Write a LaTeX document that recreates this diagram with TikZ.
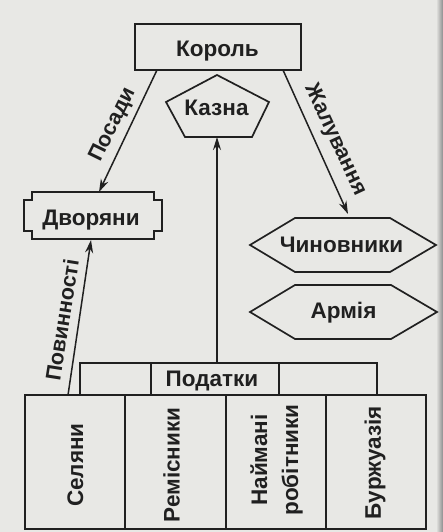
\documentclass[tikz,border=0pt]{standalone}
\usepackage{fontspec}
\setmainfont{Liberation Sans}
\usetikzlibrary{arrows.meta}
\definecolor{paper}{RGB}{232,232,229}
\definecolor{ink}{RGB}{32,32,32}
\begin{document}
\begin{tikzpicture}[x=1pt,y=-1pt,
  shapeline/.style={draw=ink, fill=paper, line width=1.7pt},
  rowline/.style={draw=ink, line width=1.7pt},
  txt/.style={font=\fontsize{22.5}{31}\selectfont\bfseries, text=ink, inner sep=0pt},
  lbl/.style={font=\fontsize{21.5}{24}\selectfont\bfseries, text=ink, inner sep=0pt},
  arr/.style={draw=ink, line width=1.5pt, -{Stealth[length=13pt,width=8pt]}}]
\fill[paper] (0,0) rectangle (443,532);
\useasboundingbox (0,0) rectangle (443,532);
\fill[left color=paper, right color=black!45] (436,0) rectangle (443,532);

% King
\node[shapeline, minimum width=166pt, minimum height=46pt, inner sep=0pt] (kor) at (218,47) {};
\node[txt, anchor=base] (kortxt) at (217.5,57) {Король};

% Treasury
\draw[shapeline] (217,75) -- (269,102) -- (252,137) -- (185,137) -- (166,102) -- cycle;
\node[txt, anchor=base] (kazna) at (216.5,115) {Казна};
\coordinate (kaznab) at (217,137);

% Nobles
\draw[shapeline] (32,192) -- (154,192) -- (154,200) -- (162,200) -- (162,231) -- (154,231)
  -- (154,239) -- (32,239) -- (32,231) -- (24,231) -- (24,200) -- (32,200) -- cycle;
\node[txt, anchor=base] (dvor) at (91,225) {Дворяни};

% Officials and army
\draw[shapeline] (250,245) -- (295,218) -- (390,218) -- (436,245) -- (390,272) -- (295,272) -- cycle;
\node[txt, anchor=base] (chyn) at (341.5,252) {Чиновники};
\draw[shapeline] (250,312) -- (295,285) -- (391,285) -- (437,312) -- (391,339) -- (295,339) -- cycle;
\node[txt, anchor=base] (armia) at (343.5,318) {Армія};

% Taxes row
\draw[shapeline] (80,363) rectangle (377,395);
\draw[rowline] (151,363) -- (151,395);
\draw[rowline] (279,363) -- (279,395);
\node[txt, anchor=base] (podatky) at (212,386) {Податки};

% Estates table
\draw[shapeline] (25,395) rectangle (426,529);
\draw[rowline] (125,395) -- (125,529);
\draw[rowline] (226,395) -- (226,529);
\draw[rowline] (326,395) -- (326,529);
\node[txt, rotate=90] (selyany) at (75.5,465) {Селяни};
\node[txt, rotate=90] (remisn) at (171.5,465) {Ремісники};
\node[txt, rotate=90, align=center] (naim) at (276.5,460) {Наймані\\робітники};
\node[txt, rotate=90] (burzh) at (375,462.5) {Буржуазія};

% Connectors
\coordinate (k1) at (157,70);
\coordinate (d1) at (99,192);
\coordinate (k2) at (283,70);
\coordinate (c1) at (348,214);
\coordinate (s1) at (68,395);
\coordinate (d2) at (91,240);
\coordinate (p1) at (217,363);
\draw[arr] (k1) -- (d1);
\draw[arr] (k2) -- (c1);
\draw[arr] (s1) -- (d2);
\draw[arr] (p1) -- (kaznab);

\node[lbl, rotate=63.8] (posady) at (113,125) {Посади};
\node[lbl, rotate=-65] (zhal) at (335,140) {Жалування};
\node[lbl, rotate=81] (povyn) at (62,320) {Повинності};
\end{tikzpicture}
\end{document}
